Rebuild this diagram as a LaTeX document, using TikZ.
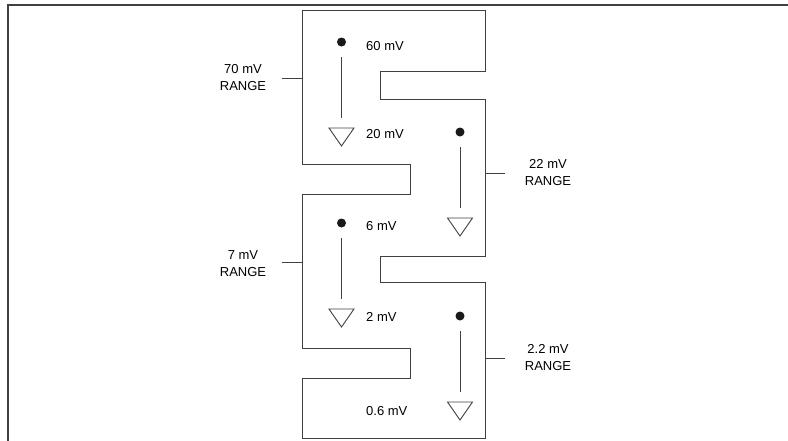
\documentclass[tikz,border=0pt]{standalone}
\usepackage{fontspec}
\setmainfont{Liberation Sans}
\begin{document}
\begin{tikzpicture}[x=1pt,y=-1pt,
    outline/.style={draw=black!75,line width=0.9pt},
    lbl/.style={anchor=west,inner sep=0pt,font=\fontsize{13}{16}\selectfont},
    rng/.style={align=center,inner sep=0pt,font=\fontsize{13}{17}\selectfont},
    sweep/.style={draw=black!75,line width=0.9pt,shorten <=15pt,shorten >=10pt}]
      \useasboundingbox (0,0) rectangle (788,440);
      \draw[black!75,line width=1.6pt] (8,441) -- (8,5) -- (789,5);

      % the folded outline of the ranges
      \draw[outline] (302,10) -- (485,10) -- (485,71) -- (380,71) -- (380,99)
        -- (485,99) -- (485,256) -- (380,256) -- (380,282) -- (485,282)
        -- (485,438) -- (302,438) -- (302,378) -- (410,378) -- (410,348)
        -- (302,348) -- (302,194) -- (410,194) -- (410,164) -- (302,164) -- cycle;

      \coordinate (A1) at (341.5,42);
      \coordinate (A2) at (341.5,128);
      \coordinate (B1) at (460,132);
      \coordinate (B2) at (460,218);
      \coordinate (C1) at (341.5,223);
      \coordinate (C2) at (341.5,309);
      \coordinate (D1) at (460,316);
      \coordinate (D2) at (460,402);

      \foreach \p in {A1,B1,C1,D1}
        \fill[black!90] (\p) circle (4.5);
      \foreach \p in {A2,B2,C2,D2}
        \draw[outline,line width=0.9pt] (\p) ++(-12.5,0) -- ++(25,0) -- ++(-12.5,18) -- cycle;

      \draw[sweep] (A1) -- (A2);
      \draw[sweep] (B1) -- (B2);
      \draw[sweep] (C1) -- (C2);
      \draw[sweep] (D1) -- (D2);

      \node[lbl] (a1) at (366,46) {60 mV};
      \node[lbl] (a2) at (366,134) {20 mV};
      \node[lbl] (c1) at (366,226) {6 mV};
      \node[lbl] (c2) at (366,317) {2 mV};
      \node[lbl] (d2) at (366,411) {0.6 mV};

      \node[rng] (r70) at (243,77.5) {70 mV\\RANGE};
      \node[rng] (r22) at (548,172.5) {22 mV\\RANGE};
      \node[rng] (r7) at (243,263.5) {7 mV\\RANGE};
      \node[rng] (r2) at (548,358) {2.2 mV\\RANGE};

      \coordinate (e70) at (302,78);
      \coordinate (e22) at (485,173);
      \coordinate (e7) at (302,262);
      \coordinate (e2) at (485,358);
      \draw[outline] (e70) -- ++(-20,0);
      \draw[outline] (e22) -- ++(20,0);
      \draw[outline] (e7) -- ++(-20,0);
      \draw[outline] (e2) -- ++(20,0);

    \end{tikzpicture}
\end{document}
